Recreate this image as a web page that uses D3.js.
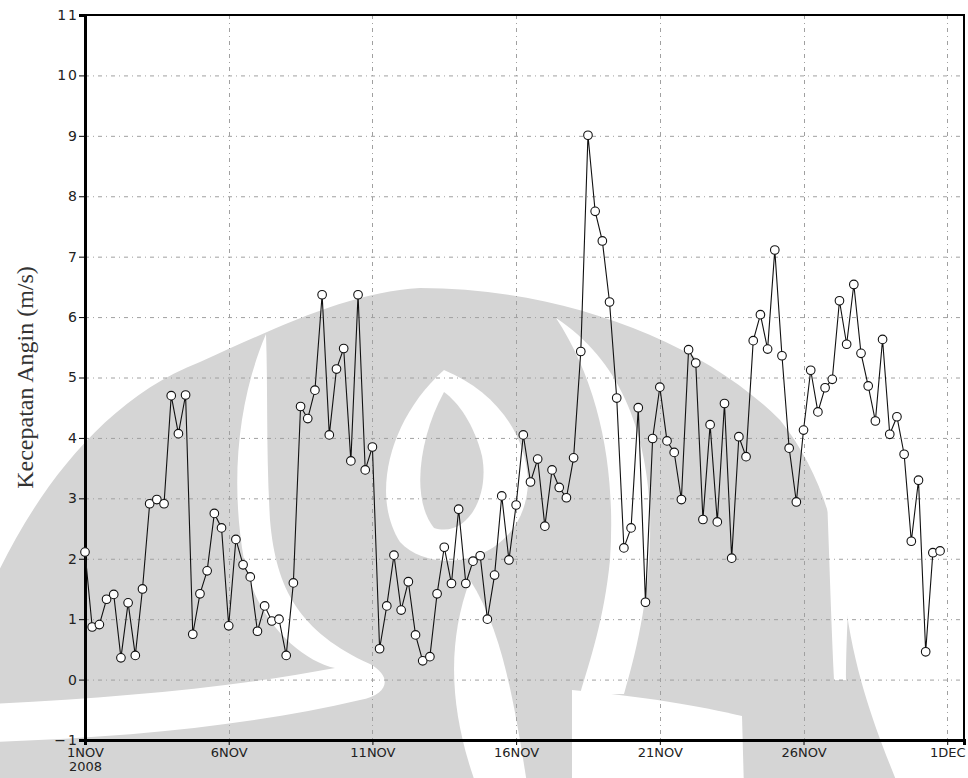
<!DOCTYPE html>
<html>
<head>
<meta charset="utf-8">
<script src="https://cdn.jsdelivr.net/npm/d3@7"></script>
<style>
  html, body { margin: 0; padding: 0; background: #fff; }
  svg { display: block; }
</style>
</head>
<body>
<svg id="chart" width="968" height="778"></svg>
<script>
// ---------------- data ----------------
// 6-hourly wind speed (m/s), starting 1 Nov 2008 00Z
const startTime = Date.UTC(2008, 10, 1, 0);
const stepHours = 6;
const windSpeed = [
  2.11, 0.87, 0.91, 1.33, 1.41, 0.36, 1.27, 0.40, 1.50, 2.91,
  2.98, 2.91, 4.70, 4.07, 4.71, 0.75, 1.42, 1.80, 2.75, 2.51,
  0.89, 2.32, 1.90, 1.70, 0.80, 1.22, 0.97, 1.00, 0.40, 1.60,
  4.52, 4.32, 4.79, 6.37, 4.05, 5.14, 5.48, 3.62, 6.37, 3.47,
  3.85, 0.51, 1.22, 2.06, 1.15, 1.62, 0.74, 0.31, 0.38, 1.42,
  2.19, 1.59, 2.82, 1.59, 1.96, 2.05, 1.00, 1.73, 3.04, 1.98,
  2.89, 4.05, 3.27, 3.65, 2.54, 3.47, 3.18, 3.01, 3.67, 5.43,
  9.01, 7.75, 7.26, 6.25, 4.66, 2.18, 2.51, 4.50, 1.28, 3.99,
  4.84, 3.95, 3.76, 2.98, 5.46, 5.24, 2.65, 4.22, 2.61, 4.57,
  2.01, 4.02, 3.69, 5.61, 6.04, 5.47, 7.11, 5.36, 3.83, 2.94,
  4.13, 5.12, 4.43, 4.83, 4.97, 6.27, 5.55, 6.54, 5.40, 4.86,
  4.28, 5.63, 4.06, 4.35, 3.73, 2.29, 3.30, 0.46, 2.10, 2.13
];
const xTickDays = [1, 6, 11, 16, 21, 26, 31];
const xTickLabels = ["1NOV", "6NOV", "11NOV", "16NOV", "21NOV", "26NOV", "1DEC"];
const xYearLabel = "2008";
const yTicks = [-1, 0, 1, 2, 3, 4, 5, 6, 7, 8, 9, 10, 11];
const yLabel = "Kecepatan Angin (m/s)";

// decorative background watermark (light grey emblem behind the plot)
const watermarkGray = [
  // outer silhouette
  "M -10,590 C 30,500 100,400 200,362 C 280,326 350,292 420,288 C 560,288 700,340 780,420 C 820,470 838,530 845,600 C 855,680 880,740 900,790 L -10,790 Z"
];
const watermarkWhite = [
  // left crescent sweeping into the bottom-left band
  "M 266,334 C 238,400 230,480 244,560 C 256,620 300,660 335,668 C 230,688 110,698 -10,704 L -10,742 C 120,738 250,726 360,700 C 390,694 392,676 370,664 C 300,632 276,590 270,520 C 266,450 268,390 266,334 Z",
  // eye
  "M 444,370 C 390,418 370,495 400,542 C 436,580 526,560 528,482 C 526,430 492,390 444,370 Z",
  // right crescent
  "M 556,318 C 600,385 616,470 610,560 C 604,620 590,660 580,694 L 624,694 C 640,640 652,580 650,510 C 646,430 620,360 556,318 Z",
  // bottom-right band
  "M 572,690 C 640,696 700,706 742,716 L 744,790 L 572,790 Z",
  // centre bottom flame
  "M 470,580 C 444,650 452,720 478,790 L 528,790 C 514,700 502,630 470,580 Z",
  // right gap and outside region
  "M 822,380 L 968,380 L 968,790 L 905,790 C 895,700 880,620 852,548 C 848,600 846,650 846,680 L 834,680 C 830,600 828,500 822,380 Z"
];
const watermarkCore = [
  "M 444,392 C 420,436 410,498 434,528 C 466,538 490,498 482,456 C 474,424 458,402 444,392 Z"
];

// ---------------- chart ----------------
const svg = d3.select("#chart");
const plot = { left: 85, top: 15, right: 964, bottom: 740 };

const times = windSpeed.map((v, i) => new Date(startTime + i * stepHours * 3600 * 1000));
const data = windSpeed.map((v, i) => ({ t: times[i], v }));

const x = d3.scaleUtc()
  .domain([new Date(startTime), new Date(Date.UTC(2008, 11, 1, 14))])
  .range([plot.left, plot.right]);
const y = d3.scaleLinear().domain([-1, 11]).range([plot.bottom, plot.top]);

// watermark
const wm = svg.append("g").attr("class", "watermark");
wm.selectAll("path.g").data(watermarkGray).join("path").attr("class", "g")
  .attr("d", d => d).attr("fill", "#d5d5d5");
wm.selectAll("path.w").data(watermarkWhite).join("path").attr("class", "w")
  .attr("d", d => d).attr("fill", "#ffffff");
wm.selectAll("path.c").data(watermarkCore).join("path").attr("class", "c")
  .attr("d", d => d).attr("fill", "#d5d5d5");

// grid
const xTickDates = xTickDays.map(d => new Date(Date.UTC(2008, 10, d)));
const grid = svg.append("g").attr("class", "grid")
  .attr("stroke", "#a0a0a0").attr("stroke-width", 1)
  .attr("stroke-dasharray", "4,4,1,4");
grid.selectAll("line.h").data(yTicks.filter(v => v > -1 && v < 11)).join("line")
  .attr("class", "h")
  .attr("x1", plot.left).attr("x2", plot.right)
  .attr("y1", d => y(d) + 0.5).attr("y2", d => y(d) + 0.5);
grid.selectAll("line.v").data(xTickDates.slice(1)).join("line")
  .attr("class", "v")
  .attr("x1", d => Math.round(x(d)) + 0.5).attr("x2", d => Math.round(x(d)) + 0.5)
  .attr("y1", plot.top).attr("y2", plot.bottom);

// frame (top/right)
svg.append("rect")
  .attr("x", plot.left).attr("y", plot.top)
  .attr("width", plot.right - plot.left).attr("height", plot.bottom - plot.top)
  .attr("fill", "none").attr("stroke", "#000").attr("stroke-width", 2);

// axes
const yAxis = d3.axisLeft(y).tickValues(yTicks).tickSize(6).tickPadding(3)
  .tickFormat(d => d < 0 ? "\u22121" : String(d));
const gy = svg.append("g").attr("transform", `translate(${plot.left},0)`).call(yAxis);
gy.select(".domain").attr("stroke", "#000").attr("stroke-width", 3);
gy.selectAll(".tick line").attr("stroke", "#000").attr("stroke-width", 1);
gy.selectAll(".tick text")
  .attr("font-family", "DejaVu Sans, sans-serif").attr("font-size", 14)
  .attr("letter-spacing", 2).attr("fill", "#222").attr("x", -6);

const xAxis = d3.axisBottom(x).tickValues(xTickDates).tickSize(5).tickPadding(4)
  .tickFormat((d, i) => xTickLabels[i]);
const gx = svg.append("g").attr("transform", `translate(0,${plot.bottom})`).call(xAxis);
gx.select(".domain").attr("stroke", "#000").attr("stroke-width", 3);
gx.selectAll(".tick line").attr("stroke", "#000").attr("stroke-width", 1);
gx.selectAll(".tick text")
  .attr("font-family", "DejaVu Sans, sans-serif").attr("font-size", 13)
  .attr("fill", "#222").attr("dy", "0.62em");
gx.select(".tick text").clone()
  .text(xYearLabel).attr("dy", "1.72em");

// y label
svg.append("text")
  .attr("transform", `translate(33,${(plot.top + plot.bottom) / 2}) rotate(-90)`)
  .attr("text-anchor", "middle")
  .attr("font-family", "Liberation Serif, Times New Roman, serif")
  .attr("font-size", 24).attr("fill", "#333")
  .text(yLabel);

// line + markers
const line = d3.line().x(d => x(d.t)).y(d => y(d.v));
svg.append("path").datum(data)
  .attr("fill", "none").attr("stroke", "#111").attr("stroke-width", 1.1)
  .attr("d", line);
svg.append("g").selectAll("circle").data(data).join("circle")
  .attr("cx", d => x(d.t)).attr("cy", d => y(d.v)).attr("r", 4.3)
  .attr("fill", "#fff").attr("stroke", "#111").attr("stroke-width", 1.1);
</script>
</body>
</html>
